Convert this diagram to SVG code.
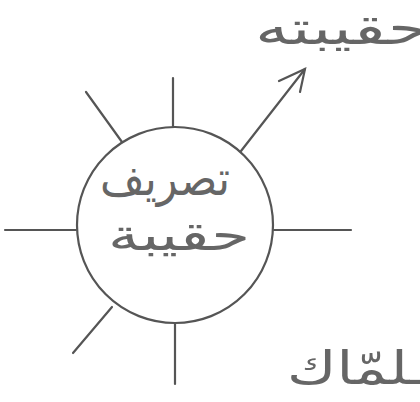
<svg xmlns="http://www.w3.org/2000/svg" width="420" height="402" viewBox="0 0 420 402">
<style>
.ln{stroke:#555;stroke-width:2.2;fill:none;stroke-linecap:round}
.t{font-family:"DejaVu Sans","Noto Sans",sans-serif;fill:#666}
</style>
<rect width="420" height="402" fill="#fff"/>
<g id="connectors">
<line class="ln" x1="173" y1="78" x2="173" y2="127"/>
<line class="ln" x1="86" y1="92" x2="122" y2="142"/>
<line class="ln" x1="241" y1="151" x2="305" y2="69"/>
<polyline class="ln" points="279,81 305,69 300,92"/>
<line class="ln" x1="5" y1="230" x2="76" y2="230"/>
<line class="ln" x1="274" y1="230" x2="351" y2="230"/>
<line class="ln" x1="112" y1="307" x2="73" y2="353"/>
<line class="ln" x1="175" y1="323" x2="175" y2="384"/>
</g>
<g id="center">
<circle cx="175" cy="225" r="98" class="ln"/>
<text class="t" x="100" y="195" font-size="48" textLength="130" lengthAdjust="spacingAndGlyphs">تصريف</text>
<text class="t" x="108" y="250" font-size="44" textLength="142" lengthAdjust="spacingAndGlyphs">حقيبة</text>
</g>
<g id="top-right">
<text class="t" x="255" y="44" font-size="46" textLength="175" lengthAdjust="spacingAndGlyphs">حقيبته</text>
</g>
<g id="bottom-right">
<text class="t" x="287" y="384" font-size="46" textLength="140" lengthAdjust="spacingAndGlyphs">ـلمّاك</text>
</g>
</svg>
